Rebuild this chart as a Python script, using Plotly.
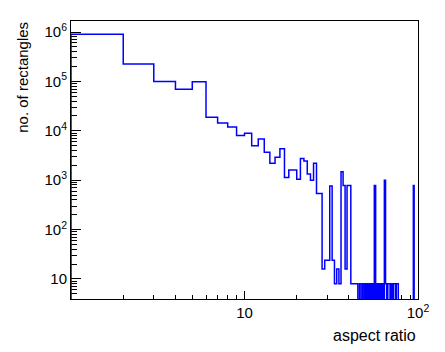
import numpy as np
import plotly.graph_objects as go

FONT = "Liberation Sans"

# histogram: integer bins from 1 to 100 (aspect ratio), counts per bin
bin_edges = list(range(1, 101))
counts = [
    900000, 225000, 100000, 69000, 99000, 18800, 14400, 11900, 8000, 8900,   # 1-10
    5000, 6800, 3700, 2200, 2900, 4350, 1140, 1600, 1600, 1050,              # 11-20
    2750, 2450, 1330, 1000, 2200, 540, 540, 16, 24, 24,                      # 21-30
    760, 24, 8, 16, 8, 1480, 780, 16, 780, 780,                              # 31-40
    8, 8, 8, 8, 0, 8, 0, 8, 0, 8,                                            # 41-50
    0, 8, 0, 8, 0, 780, 0, 8, 0, 8,                                          # 51-60
    0, 8, 0, 1000, 8, 0, 8, 8, 0, 8,                                         # 61-70
    0, 8, 8, 0, 8, 8, 0, 0, 0, 0,                                            # 71-80
    0, 0, 0, 0, 0, 0, 0, 0, 0, 0,                                            # 81-90
    0, 0, 0, 780, 0, 0, 0, 0, 0,                                             # 91-99
]

y_major = [10, 100, 1000, 10000, 100000, 1000000]
y_labels = ["10", "10<sup>2</sup>", "10<sup>3</sup>", "10<sup>4</sup>",
            "10<sup>5</sup>", "10<sup>6</sup>"]
x_major = [10, 100]
x_labels = ["10", "10<sup>2</sup>"]

# empty bins cannot sit on a log axis: push them below the frame (clipped)
floor = 0.1
vals = np.array(counts, dtype=float)
vals = np.where(vals > 0, vals, floor)
xs = [bin_edges[0]] + bin_edges
ys = [floor] + list(vals) + [floor]

y_minor = [k * 10 ** d for d in range(0, 7) for k in range(2, 10)]
x_minor = [k * 10 ** d for d in range(0, 2) for k in range(2, 10)]

fig = go.Figure()
fig.add_trace(go.Scatter(
    x=xs, y=ys, mode="lines", line=dict(color="#0000ff", width=1.5, shape="hv"),
    showlegend=False, hoverinfo="skip",
))

axis_common = dict(
    type="log", showgrid=False, zeroline=False, showline=True, mirror=True,
    linecolor="black", linewidth=1, ticks="inside", tickcolor="black",
    tickwidth=1, tickmode="array", layer="below traces", automargin=False,
    tickfont=dict(family=FONT, size=15, color="black"),
)

fig.update_xaxes(
    **axis_common, range=[0, 2], tickvals=x_major, ticktext=x_labels, ticklen=8,
    minor=dict(tickmode="array", tickvals=x_minor, ticks="inside", ticklen=4,
               tickcolor="black", showgrid=False),
)
fig.update_yaxes(
    **axis_common, range=[0.595, 6.223], tickvals=y_major, ticktext=y_labels,
    ticklen=10,
    minor=dict(tickmode="array", tickvals=y_minor, ticks="inside", ticklen=6,
               tickcolor="black", showgrid=False),
)

fig.add_annotation(text="aspect ratio", xref="paper", yref="paper",
                   x=1, y=-0.133, xanchor="right", yanchor="middle",
                   showarrow=False, font=dict(family=FONT, size=16, color="black"))
fig.add_annotation(text="no. of rectangles", xref="paper", yref="paper",
                   x=-0.14, y=1.004, xanchor="center", yanchor="top", textangle=-90,
                   showarrow=False, font=dict(family=FONT, size=15, color="black"))

# the page body adds an 8px margin, so the figure is drawn 8px smaller
fig.update_layout(
    width=429, height=336,
    margin=dict(l=63, r=19, t=13, b=45),
    paper_bgcolor="white", plot_bgcolor="white",
    font=dict(family=FONT, size=15, color="black"),
)

fig.write_html("out.html")
